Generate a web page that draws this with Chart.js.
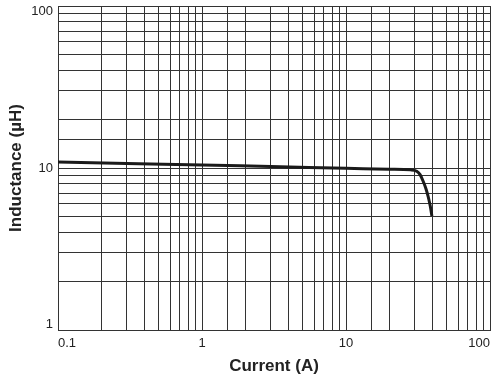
<!DOCTYPE html>
<html>
<head>
<meta charset="utf-8">
<script src="https://cdn.jsdelivr.net/npm/chart.js@4.4.1/dist/chart.umd.min.js"></script>
<style>
  html, body { margin: 0; padding: 0; background: #fff; }
  #wrap { width: 496px; height: 377px; }
</style>
</head>
<body>
<div id="wrap"><canvas id="chart"></canvas></div>
<script>
// Inductance vs. current
const current = [0.1, 0.3, 1, 3, 10, 20, 28, 31, 32.7, 34.4, 36, 37.3, 38.5, 39.5];
const inductance = [10.9, 10.65, 10.45, 10.2, 9.97, 9.82, 9.74, 9.55, 9.1, 8.25, 7.4, 6.6, 5.8, 5.05];

const xLabels = [0.1, 1, 10, 100];
const yLabels = [1, 10, 100];

const gridColor = "#333";
const textColor = "#222";
const tickFont = "13px 'Liberation Sans'";

const points = current.map((c, i) => ({ x: c, y: inductance[i] }));

// y labels sit inside the plot's height at the ends, like the x ones
const innerYLabels = {
    id: "innerYLabels",
    afterDraw(chart) {
        const y = chart.scales.y;
        const ctx = chart.ctx;
        ctx.save();
        ctx.font = tickFont;
        ctx.fillStyle = textColor;
        ctx.textAlign = "right";
        ctx.textBaseline = "middle";
        yLabels.forEach((v, i) => {
            let py = y.getPixelForValue(v);
            if (i === 0) py -= 6;
            if (i === yLabels.length - 1) py += 5;
            ctx.fillText(String(v), y.right - 5, py);
        });
        ctx.restore();
    }
};

new Chart(document.getElementById("chart"), {
    type: "line",
    data: {
        datasets: [{
            data: points,
            borderColor: "#1a1a1a",
            borderWidth: 3,
            pointRadius: 0,
            cubicInterpolationMode: "monotone",
            fill: false
        }]
    },
    options: {
        responsive: true,
        maintainAspectRatio: false,
        animation: false,
        layout: { autoPadding: false, padding: { top: 6, right: 6, left: 0, bottom: 0 } },
        plugins: { legend: { display: false }, tooltip: { enabled: false } },
        scales: {
            x: {
                type: "logarithmic",
                min: 0.1,
                max: 100,
                border: { color: gridColor },
                grid: { color: gridColor, drawTicks: false },
                ticks: {
                    autoSkip: false,
                    maxRotation: 0,
                    align: "inner",
                    padding: 6,
                    color: textColor,
                    font: { family: "Liberation Sans", size: 13 },
                    callback: v => xLabels.includes(v) ? String(v) : ""
                },
                title: {
                    display: true,
                    text: "Current (A)",
                    color: textColor,
                    font: { family: "Liberation Sans", size: 17, weight: "bold" },
                    padding: { top: 0, bottom: 0 }
                },
                afterFit: s => { s.height = 47; }
            },
            y: {
                type: "logarithmic",
                min: 1,
                max: 100,
                border: { color: gridColor },
                grid: { color: gridColor, drawTicks: false },
                ticks: { autoSkip: false, display: false },
                title: {
                    display: true,
                    text: "Inductance (µH)",
                    color: textColor,
                    font: { family: "Liberation Sans", size: 17, weight: "bold" },
                    padding: { top: 6, bottom: 0 }
                },
                afterFit: s => { s.width = 58; }
            }
        }
    },
    plugins: [innerYLabels]
});
</script>
</body>
</html>
